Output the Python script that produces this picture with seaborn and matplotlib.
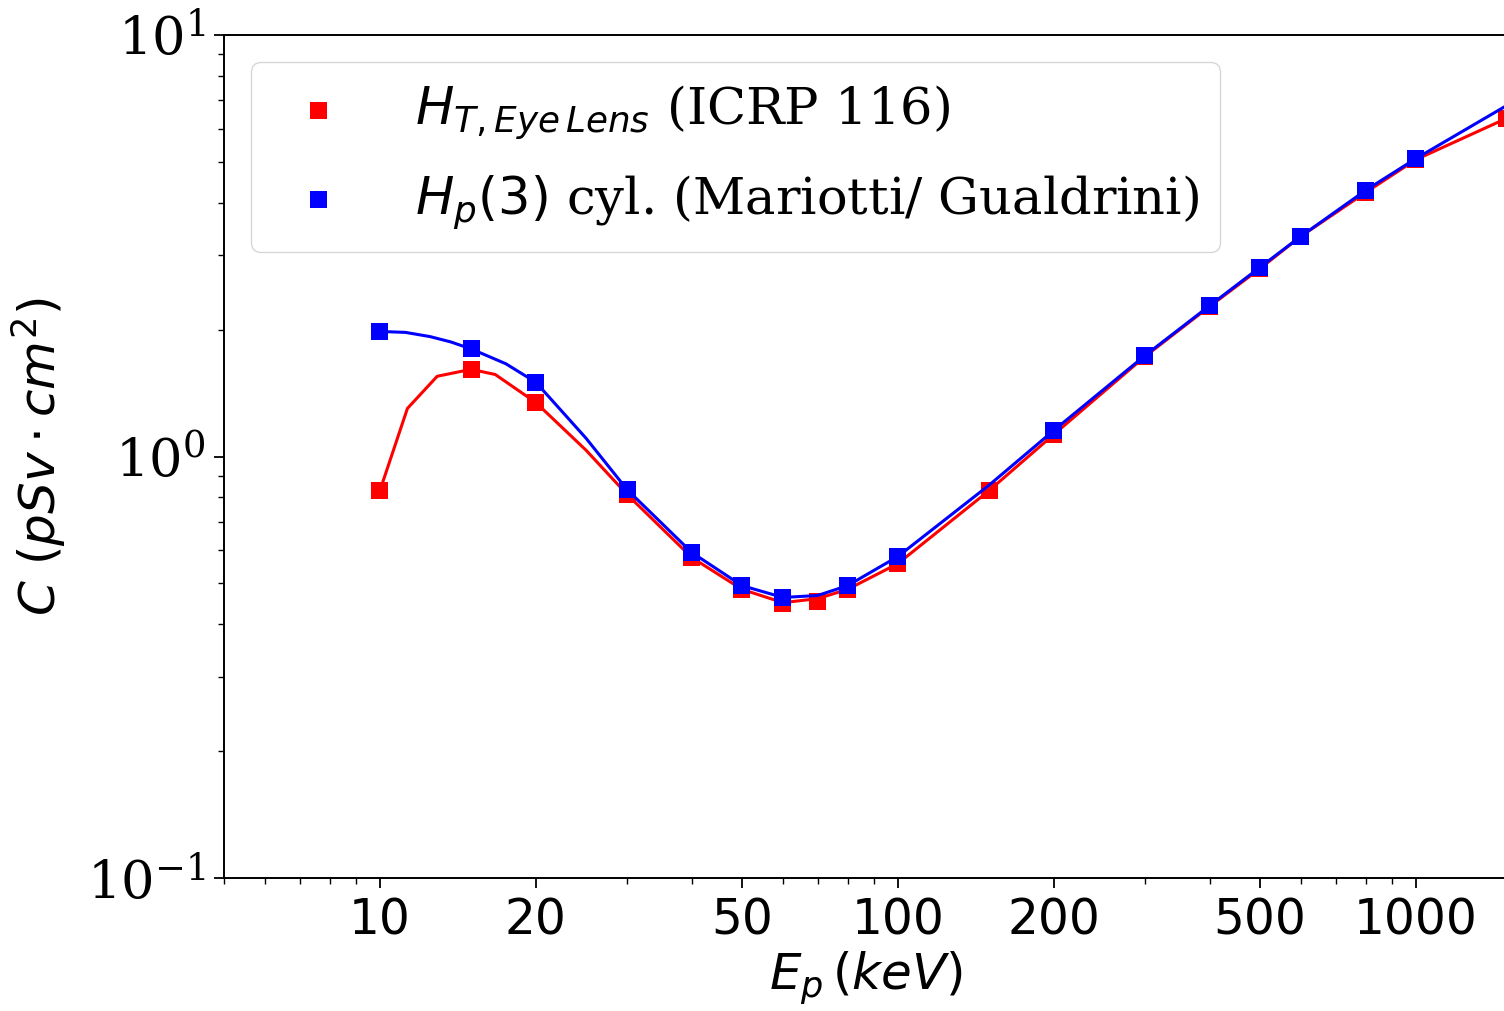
import numpy as np
import pandas as pd
import matplotlib
matplotlib.use("Agg")
import matplotlib.pyplot as plt
from matplotlib.ticker import FixedLocator, FixedFormatter, LogLocator, NullFormatter
import seaborn as sns

# ---- data ----
energy_icrp = [10, 15, 20, 30, 40, 50, 60, 70, 80, 100, 150, 200, 300, 400, 500, 600, 800, 1000, 1500]
c_icrp = [0.83, 1.61, 1.34, 0.813, 0.576, 0.484, 0.448, 0.453, 0.484, 0.557, 0.83, 1.128,
          1.727, 2.27, 2.79, 3.33, 4.23, 5.06, 6.35]

energy_hp3 = [10, 15, 20, 30, 40, 50, 60, 80, 100, 200, 300, 400, 500, 600, 800, 1000]
c_hp3 = [1.98, 1.80, 1.50, 0.835, 0.592, 0.494, 0.463, 0.494, 0.579, 1.153, 1.736, 2.28,
         2.81, 3.33, 4.28, 5.09]

# curve vertices (drawn lines)
curve_icrp_x = [10, 11.3, 12.9, 15, 16.7, 20, 25, 30, 40, 50, 60, 70, 80, 100, 150, 200, 300,
                400, 500, 600, 800, 1000, 1500]
curve_icrp_y = [0.83, 1.30, 1.55, 1.61, 1.565, 1.343, 1.035, 0.813, 0.576, 0.484, 0.450, 0.460,
                0.484, 0.557, 0.83, 1.128, 1.727, 2.27, 2.79, 3.33, 4.23, 5.06, 6.35]
curve_hp3_x = [10, 11.2, 12.5, 13.7, 15, 17.5, 20, 25, 30, 40, 50, 60, 70, 80, 100, 150, 200,
               300, 400, 500, 600, 800, 1000, 1500]
curve_hp3_y = [1.98, 1.97, 1.925, 1.87, 1.80, 1.66, 1.50, 1.105, 0.835, 0.592, 0.494, 0.463,
               0.468, 0.494, 0.579, 0.855, 1.153, 1.736, 2.28, 2.81, 3.33, 4.28, 5.09, 6.81]

xtick_vals = [10, 20, 50, 100, 200, 500, 1000]
xtick_labels = ["10", "20", "50", "100", "200", "500", "1000"]

label_icrp = r"$H_{T,Eye\,Lens}$ (ICRP 116)"
label_hp3 = r"$H_p(3)$ cyl. (Mariotti/ Gualdrini)"

# ---- plot ----
sns.set_theme(style="ticks")
plt.rcParams["font.family"] = ["DejaVu Sans"]
plt.rcParams["mathtext.fontset"] = "dejavusans"
plt.rcParams["text.color"] = "black"
plt.rcParams["axes.labelcolor"] = "black"
plt.rcParams["xtick.color"] = "black"
plt.rcParams["ytick.color"] = "black"
plt.rcParams["axes.edgecolor"] = "black"

fig = plt.figure(figsize=(15.04, 10.11), dpi=100)
ax = fig.add_axes([224 / 1504, 133 / 1011, 1283 / 1504, 843 / 1011])
ax.set_xscale("log")
ax.set_yscale("log")

df_ci = pd.DataFrame({"x": curve_icrp_x, "y": curve_icrp_y})
df_ch = pd.DataFrame({"x": curve_hp3_x, "y": curve_hp3_y})
df_i = pd.DataFrame({"x": energy_icrp, "y": c_icrp})
df_h = pd.DataFrame({"x": energy_hp3, "y": c_hp3})

sns.lineplot(data=df_ci, x="x", y="y", ax=ax, color="red", lw=2.2, sort=False,
             estimator=None, zorder=2, legend=False)
sns.scatterplot(data=df_i, x="x", y="y", ax=ax, color="red", marker="s", s=150,
                edgecolor="none", linewidth=0, zorder=3, label=label_icrp)
sns.lineplot(data=df_ch, x="x", y="y", ax=ax, color="blue", lw=2.2, sort=False,
             estimator=None, zorder=4, legend=False)
sns.scatterplot(data=df_h, x="x", y="y", ax=ax, color="blue", marker="s", s=150,
                edgecolor="none", linewidth=0, zorder=5, label=label_hp3)

ax.set_xlim(5, 1500)
ax.set_ylim(0.1, 10)

ax.xaxis.set_major_locator(FixedLocator(xtick_vals))
ax.xaxis.set_major_formatter(FixedFormatter(xtick_labels))
ax.xaxis.set_minor_locator(LogLocator(base=10, subs=np.arange(2, 10), numticks=20))
ax.xaxis.set_minor_formatter(NullFormatter())

for s in ["left", "bottom", "top", "right"]:
    ax.spines[s].set_color("black")
    ax.spines[s].set_linewidth(1.4)

ax.tick_params(axis="both", which="major", length=7, width=1.3, direction="out",
               color="black", labelcolor="black", top=False, right=False)
ax.tick_params(axis="both", which="minor", length=4, width=1.0, direction="out",
               color="black", top=False, right=False)
ax.tick_params(axis="x", labelsize=35, pad=6)
ax.tick_params(axis="y", labelsize=38, pad=6)
for t in ax.get_yticklabels():
    t.set_fontfamily("DejaVu Serif")

ax.set_xlabel(r"$E_p\,(keV)$", fontsize=36, labelpad=4, color="black")
ax.set_ylabel(r"$C\ (pSv \cdot cm^2)$", fontsize=36, labelpad=14, color="black")

leg = ax.legend(loc="upper left", frameon=True, fancybox=True,
                framealpha=0.8, edgecolor="#cccccc", borderaxespad=0.53,
                handlelength=1.8, handletextpad=0.98, borderpad=0.42, labelspacing=0.62,
                prop={"family": "DejaVu Serif", "size": 36.8})
for t in leg.get_texts():
    t.set_fontfamily("DejaVu Serif")
    t.set_color("black")

fig.savefig("out.png", dpi=100, facecolor="white")
